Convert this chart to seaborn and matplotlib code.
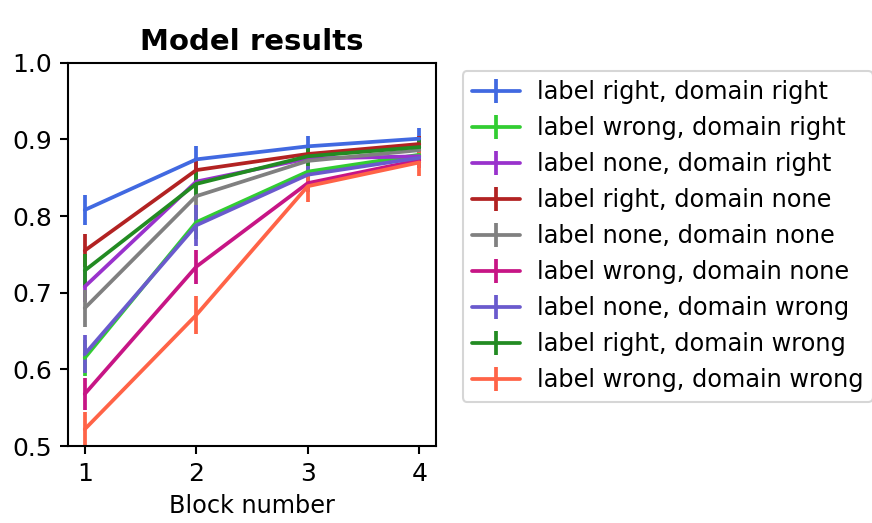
import seaborn as sns
import matplotlib.pyplot as plt

# Block numbers on the x axis
blocks = [1, 2, 3, 4]

# Condition names (legend order)
conditions = [
    'label right, domain right',
    'label wrong, domain right',
    'label none, domain right',
    'label right, domain none',
    'label none, domain none',
    'label wrong, domain none',
    'label none, domain wrong',
    'label right, domain wrong',
    'label wrong, domain wrong',
]

colors = ['royalblue', 'limegreen', 'darkorchid', 'firebrick', 'grey',
          'mediumvioletred', 'slateblue', 'forestgreen', 'tomato']

# Mean accuracy per block for each condition
right_right = [0.808, 0.874, 0.891, 0.901]
wrong_right = [0.615, 0.792, 0.858, 0.880]
none_right = [0.708, 0.845, 0.875, 0.878]
right_none = [0.755, 0.860, 0.881, 0.894]
none_none = [0.680, 0.826, 0.872, 0.886]
wrong_none = [0.568, 0.734, 0.843, 0.873]
none_wrong = [0.620, 0.788, 0.854, 0.876]
right_wrong = [0.729, 0.842, 0.878, 0.890]
wrong_wrong = [0.522, 0.671, 0.839, 0.870]

# Error bar half-widths
err_right_right = [0.020, 0.018, 0.014, 0.014]
err_wrong_right = [0.024, 0.022, 0.012, 0.010]
err_none_right = [0.020, 0.016, 0.010, 0.010]
err_right_none = [0.022, 0.016, 0.010, 0.010]
err_none_none = [0.024, 0.018, 0.012, 0.010]
err_wrong_none = [0.021, 0.022, 0.012, 0.010]
err_none_wrong = [0.025, 0.027, 0.012, 0.010]
err_right_wrong = [0.021, 0.018, 0.012, 0.010]
err_wrong_wrong = [0.022, 0.025, 0.020, 0.018]

means = [right_right, wrong_right, none_right, right_none, none_none,
         wrong_none, none_wrong, right_wrong, wrong_wrong]
errors = [err_right_right, err_wrong_right, err_none_right, err_right_none,
          err_none_none, err_wrong_none, err_none_wrong, err_right_wrong,
          err_wrong_wrong]

sns.set_theme(style='ticks', rc={'axes.edgecolor': 'black', 'xtick.color': 'black',
                                 'ytick.color': 'black', 'axes.linewidth': 1.0,
                                 'text.color': 'black', 'axes.labelcolor': 'black'})
plt.rcParams['font.family'] = ['DejaVu Sans']

palette = sns.color_palette(colors)

fig = plt.figure(figsize=(872 / 150, 523 / 150), dpi=150)
ax = fig.add_axes([0.078, 0.147, 0.422, 0.733])

for name, m, e, c in zip(conditions, means, errors, palette):
    ax.errorbar(blocks, m, yerr=e, color=c, lw=1.8, elinewidth=1.8, label=name)

ax.set_ylim(0.5, 1.0)
ax.set_xlim(0.85, 4.15)
ax.set_xticks(blocks)
ax.set_yticks([0.5, 0.6, 0.7, 0.8, 0.9, 1.0])
ax.tick_params(labelsize=12, length=4, width=1)
ax.set_xlabel('Block number', fontsize=11.5)
ax.set_title('Model results', fontsize=14, fontweight='bold')
ax.legend(loc='upper left', bbox_to_anchor=(1.04, 1.01), fontsize=11.5,
          frameon=True, handletextpad=0.7)

fig.savefig('out.png', dpi=150)
